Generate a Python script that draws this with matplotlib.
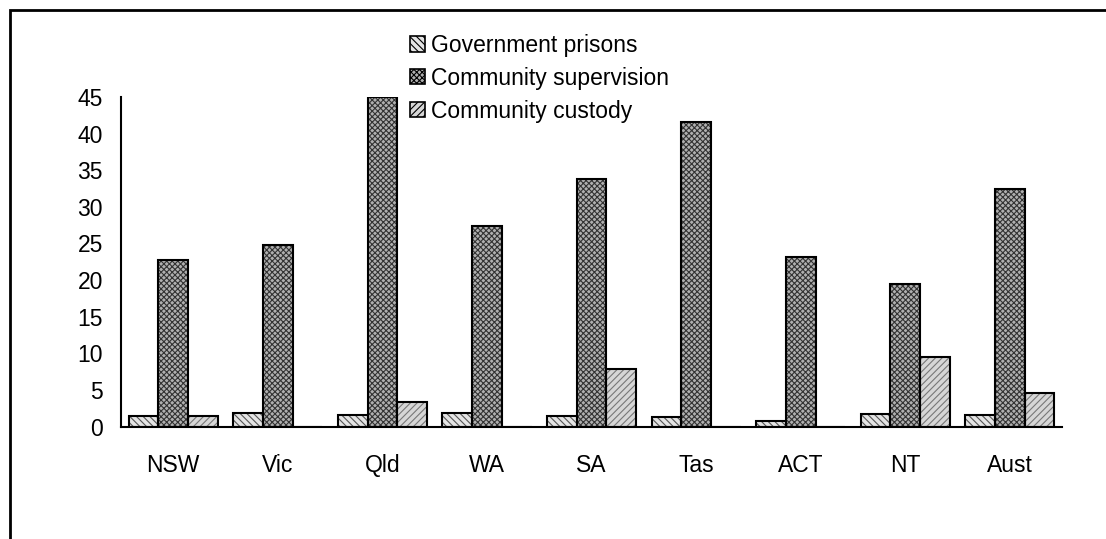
import matplotlib
matplotlib.use("Agg")
import matplotlib.pyplot as plt
import numpy as np
from matplotlib.patches import Rectangle, Patch

plt.rcParams['font.family'] = ['Liberation Sans', 'DejaVu Sans']
plt.rcParams['hatch.linewidth'] = 0.8

categories = ["NSW", "Vic", "Qld", "WA", "SA", "Tas", "ACT", "NT", "Aust"]
government_prisons = [1.4, 1.8, 1.6, 1.9, 1.5, 1.3, 0.7, 1.7, 1.6]
community_supervision = [22.7, 24.8, 45.0, 27.4, 33.8, 41.6, 23.1, 19.4, 32.4]
community_custody = [1.5, 0.0, 3.4, 0.0, 7.9, 0.0, 0.0, 9.5, 4.6]
yticks = [0, 5, 10, 15, 20, 25, 30, 35, 40, 45]

series = [
    ("Government prisons", government_prisons, "#e4e4e4", "#555555", "\\\\\\\\\\"),
    ("Community supervision", community_supervision, "#b0b0b0", "#333333", "xxxxxx"),
    ("Community custody", community_custody, "#d6d6d6", "#777777", "/////"),
]

FS = 16.5

fig = plt.figure(figsize=(11.06, 5.39), dpi=100)
ax = fig.add_axes([0.1094, 0.2087, 0.8510, 0.6113])

x = np.arange(len(categories))
width = 0.284
handles = []
for i, (name, vals, face, hcol, hatch) in enumerate(series):
    pos = x + (i - 1) * width
    # hatched fill
    ax.bar(pos, vals, width, color=face, edgecolor=hcol, linewidth=0, hatch=hatch, zorder=2)
    # solid outline
    ax.bar(pos, vals, width, fill=False, edgecolor="black", linewidth=1.5, zorder=3)
    handles.append(Patch(facecolor=face, edgecolor="black", hatch=hatch, linewidth=1.2, label=name))

ax.set_xlim(-0.5, len(categories) - 0.5)
ax.set_ylim(0, 45)
ax.set_yticks(yticks)
ax.set_xticks(x)
ax.set_xticklabels(categories)
ax.tick_params(axis='both', length=0, labelsize=FS)
ax.tick_params(axis='y', pad=13)
ax.tick_params(axis='x', pad=20)
for side in ("top", "right"):
    ax.spines[side].set_visible(False)
for side in ("left", "bottom"):
    ax.spines[side].set_linewidth(1.5)

leg = fig.legend(handles=handles, loc="upper left", bbox_to_anchor=(410 / 1106, 1 - 34 / 539),
                 frameon=False, fontsize=FS, handlelength=0.65, handleheight=0.65,
                 handletextpad=0.28, labelspacing=0.43, borderaxespad=0, borderpad=0)

# outer chart frame
fig.patches.append(Rectangle((10 / 1106, -0.05), 1.1, 1 - 10 / 539 + 0.05,
                             transform=fig.transFigure, fill=False,
                             edgecolor="black", linewidth=2.0, clip_on=False))

fig.savefig("out.png", dpi=100)
